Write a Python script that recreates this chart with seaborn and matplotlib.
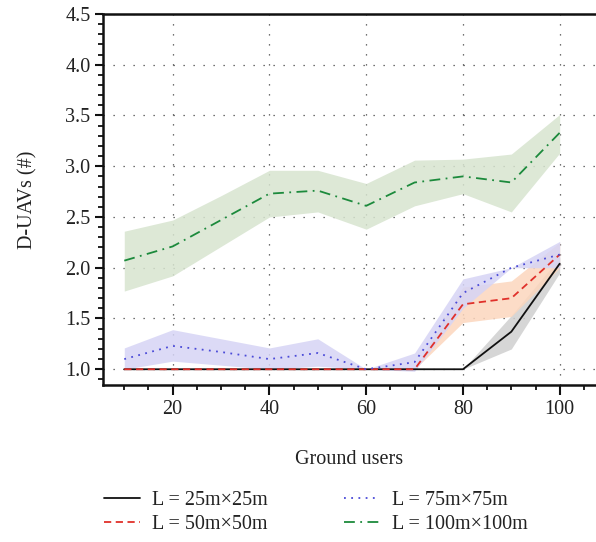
import numpy as np
import pandas as pd
import matplotlib
matplotlib.use("Agg")
import matplotlib.pyplot as plt
from matplotlib.ticker import MultipleLocator
import seaborn as sns

# Number of ground users
users = [10, 20, 30, 40, 50, 60, 70, 80, 90, 100]

# Mean number of D-UAVs for each area size, with lower/upper band
l25 = [1.0, 1.0, 1.0, 1.0, 1.0, 1.0, 1.0, 1.0, 1.37, 2.04]
l25_lo = [1.0, 1.0, 1.0, 1.0, 1.0, 1.0, 1.0, 1.0, 1.20, 1.95]
l25_hi = [1.0, 1.0, 1.0, 1.0, 1.0, 1.0, 1.0, 1.0, 1.53, 2.10]

l50 = [1.0, 1.0, 1.0, 1.0, 1.0, 1.0, 1.0, 1.64, 1.70, 2.13]
l50_lo = [1.0, 1.0, 1.0, 1.0, 1.0, 1.0, 1.0, 1.46, 1.52, 2.00]
l50_hi = [1.0, 1.0, 1.0, 1.0, 1.0, 1.0, 1.0, 1.81, 1.87, 2.25]

l75 = [1.10, 1.23, 1.17, 1.10, 1.16, 1.0, 1.07, 1.75, 2.00, 2.13]
l75_lo = [1.0, 1.08, 1.04, 1.0, 1.03, 1.0, 0.98, 1.60, 2.00, 2.00]
l75_hi = [1.21, 1.39, 1.30, 1.21, 1.30, 1.0, 1.16, 1.89, 2.00, 2.26]

l100 = [2.07, 2.21, 2.47, 2.73, 2.76, 2.61, 2.84, 2.90, 2.84, 3.33]
l100_lo = [1.77, 1.92, 2.21, 2.50, 2.55, 2.38, 2.61, 2.73, 2.55, 3.13]
l100_hi = [2.36, 2.47, 2.71, 2.96, 2.96, 2.83, 3.06, 3.07, 3.12, 3.51]

labels = ["L = 25m\u00d725m", "L = 50m\u00d750m", "L = 75m\u00d775m", "L = 100m\u00d7100m"]
means = [l25, l50, l75, l100]
lows = [l25_lo, l50_lo, l75_lo, l100_lo]
highs = [l25_hi, l50_hi, l75_hi, l100_hi]
line_colors = ["#111111", "#e0302a", "#4a4ad8", "#1c8a3c"]
band_colors = ["#cfcfcf", "#fcd6bd", "#d6d4f5", "#d7e4cf"]
dash_styles = ["-", (0, (4, 2.5)), (0, (1, 3)), (0, (6, 3, 1, 3))]

sns.set_theme(style="white")
plt.rcParams["font.family"] = ["Liberation Serif", "DejaVu Serif"]

FS = 14.5

fig = plt.figure(figsize=(5.96, 5.42), dpi=100)
ax = fig.add_axes([0.1728, 0.2897, 0.8272, 0.6845])

frames = []
for lab, m in zip(labels, means):
    frames.append(pd.DataFrame({"users": users, "uavs": m, "area": lab}))
df = pd.concat(frames, ignore_index=True)

# Shaded variability bands
for lo, hi, bc in zip(lows, highs, band_colors):
    ax.fill_between(users, lo, hi, color=bc, alpha=0.85, linewidth=0, zorder=1)

# Mean curves
handles = []
for lab, lc, ds in zip(labels, line_colors, dash_styles):
    sub = df[df["area"] == lab]
    sns.lineplot(data=sub, x="users", y="uavs", ax=ax, color=lc,
                 linewidth=1.3, zorder=3, legend=False)
    ln = ax.get_lines()[-1]
    ln.set_linestyle(ds)
    handles.append(ln)

ax.set_xlim(5.6, 107.5)
ax.set_ylim(0.845, 4.5)
ax.xaxis.set_major_locator(MultipleLocator(20))
ax.xaxis.set_minor_locator(MultipleLocator(5))
ax.yaxis.set_minor_locator(MultipleLocator(0.1))
yt = [1.0, 1.5, 2.0, 2.5, 3.0, 3.5, 4.0, 4.5]
ax.set_yticks(yt)
ax.set_yticklabels([f"{v:.1f}" for v in yt])

ax.grid(True, which="major", color="#444444", linestyle=(0, (1, 7)), linewidth=0.9)
ax.set_axisbelow(True)

for side in ["left", "top", "bottom"]:
    ax.spines[side].set_visible(True)
    ax.spines[side].set_color("#111111")
    ax.spines[side].set_linewidth(1.8)
ax.spines["right"].set_visible(False)

ax.tick_params(axis="both", which="major", direction="out", length=6, width=1.5,
               color="#111111", labelsize=FS, labelcolor="#222222", pad=3,
               bottom=True, left=True)
ax.tick_params(axis="both", which="minor", direction="out", length=3.5, width=1.3,
               color="#111111", bottom=True, left=True)
ax.tick_params(axis="x", which="major", length=7, pad=4)

ax.set_xlabel("Ground users", fontsize=FS, color="#222222", labelpad=22)
ax.set_ylabel("D-UAVs (#)", fontsize=FS, color="#222222", labelpad=20)

leg = fig.legend(handles, labels, loc="center", bbox_to_anchor=(0.530, 0.054),
                 ncol=2, frameon=False, fontsize=FS, handlelength=1.8,
                 columnspacing=3.8, labelspacing=0.25, handletextpad=0.6)
for t in leg.get_texts():
    t.set_color("#222222")

fig.savefig("out.png", dpi=100)
